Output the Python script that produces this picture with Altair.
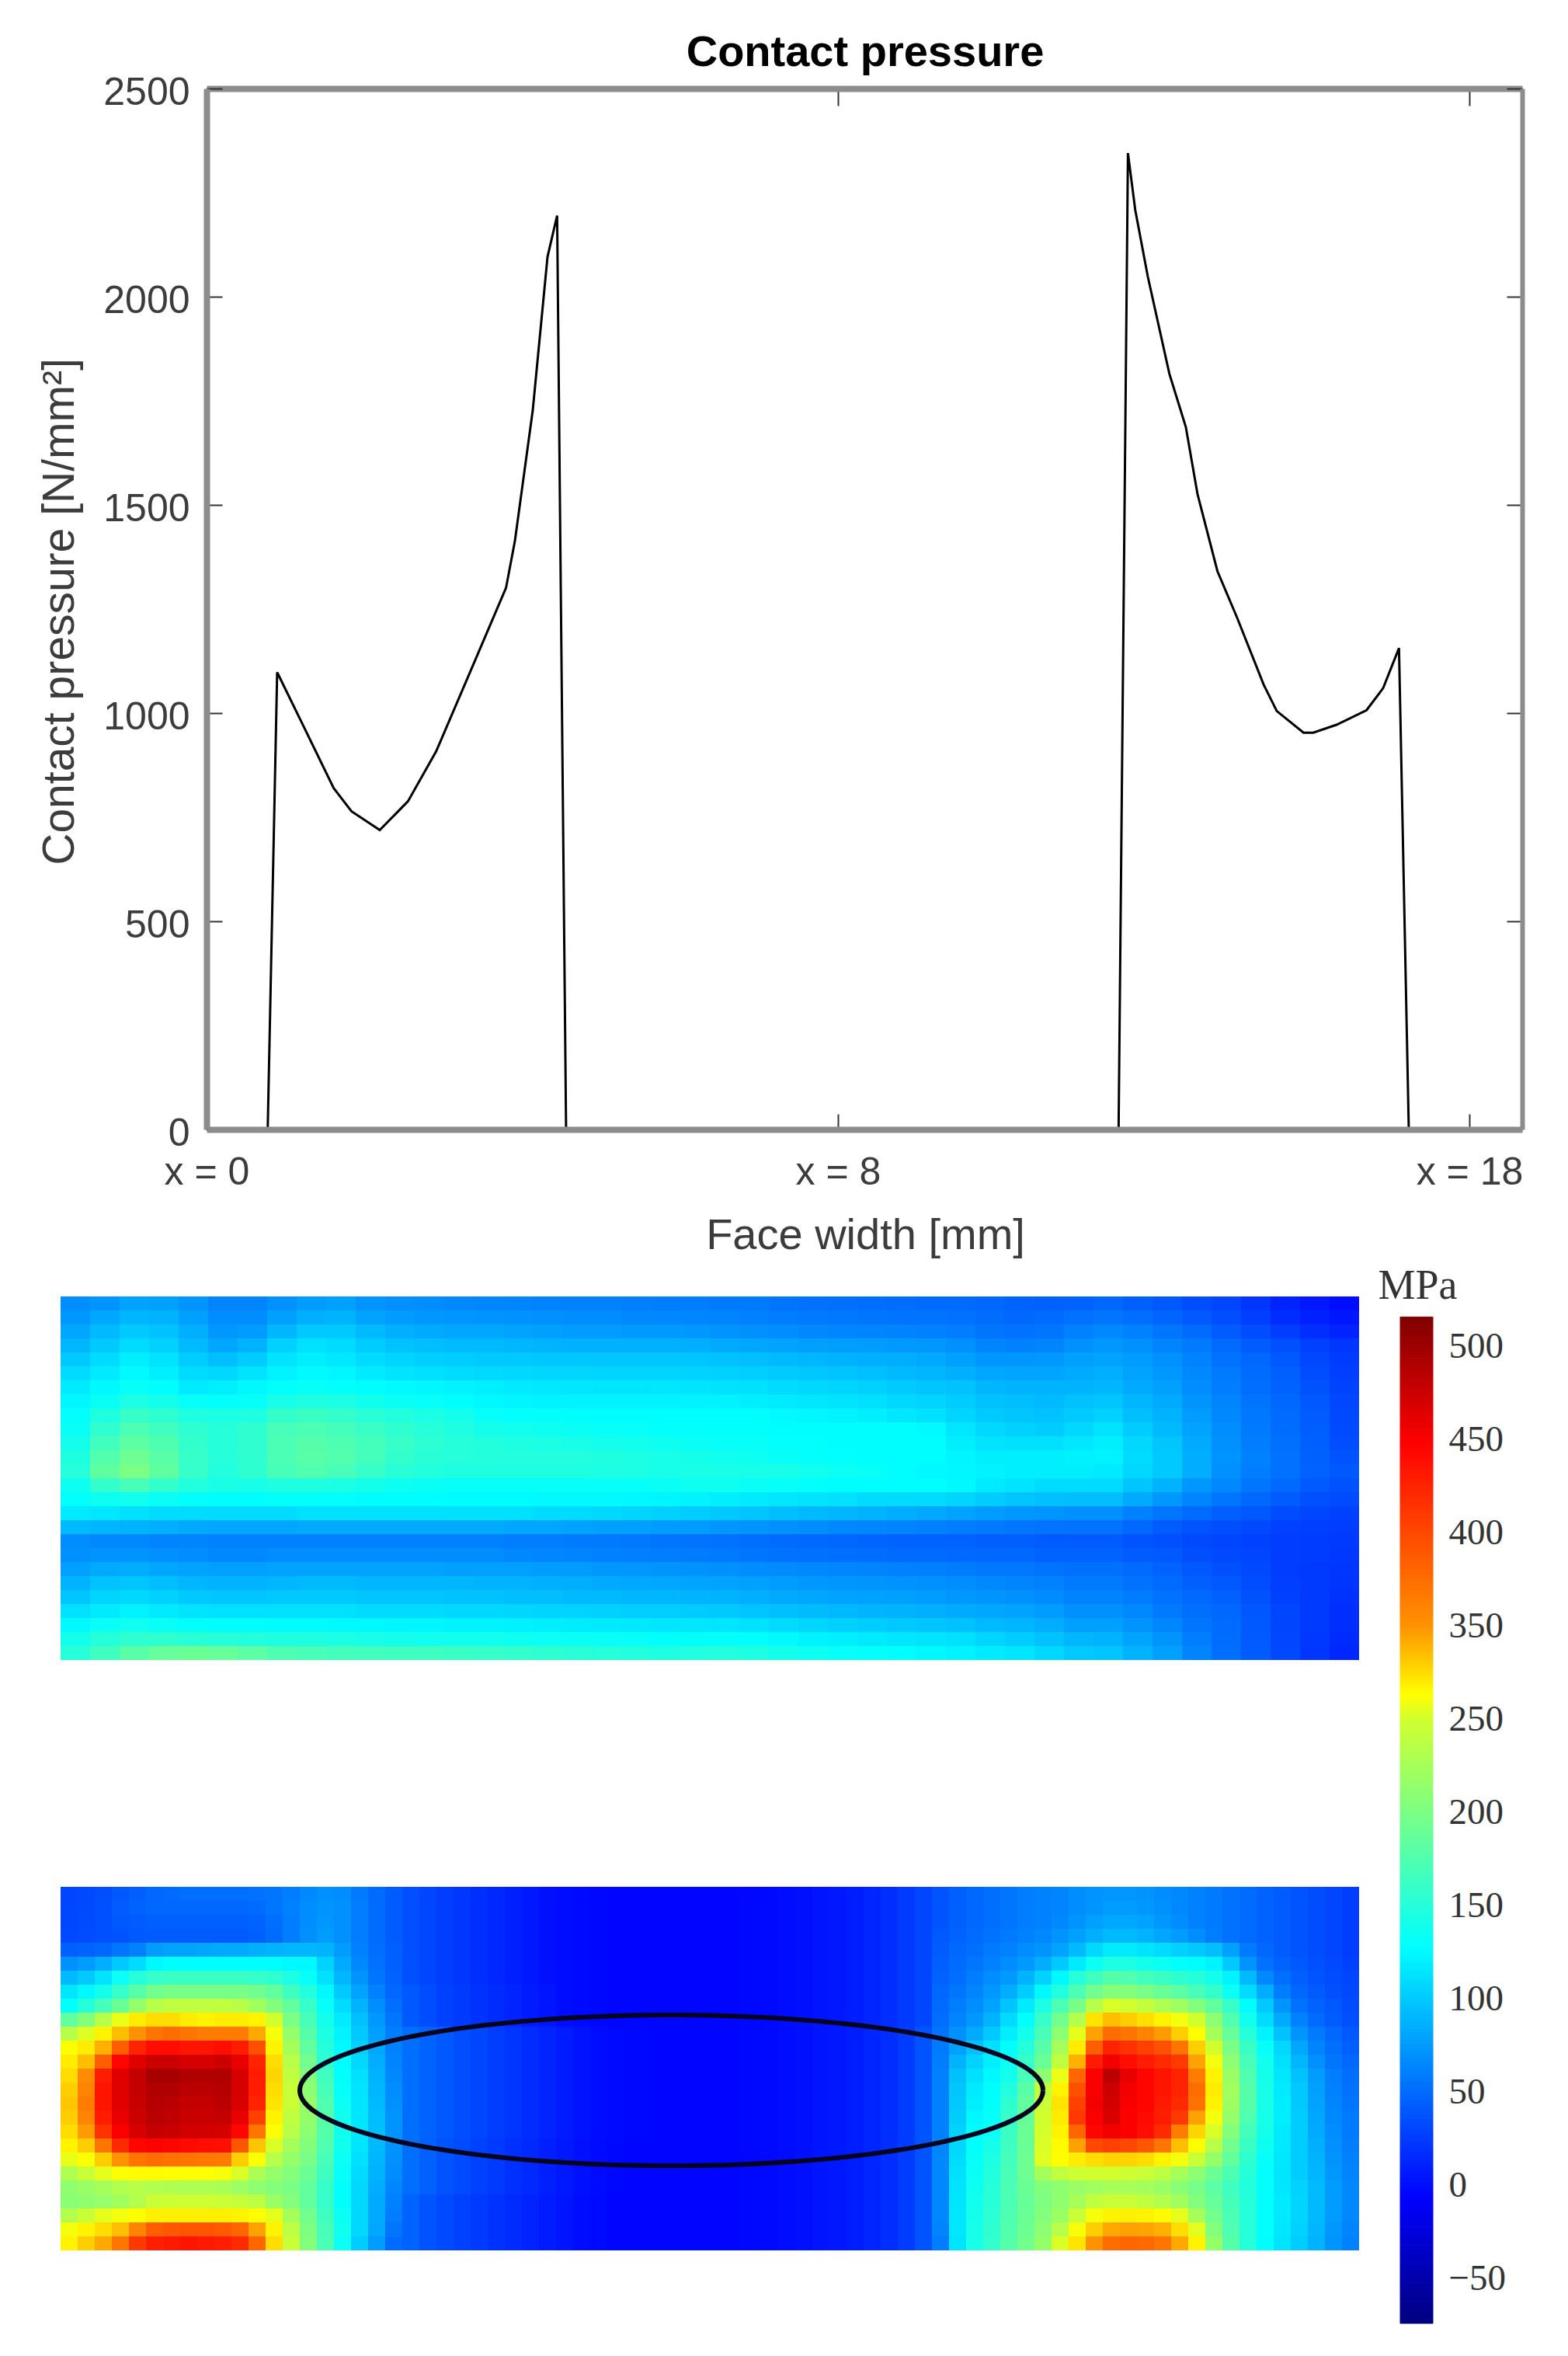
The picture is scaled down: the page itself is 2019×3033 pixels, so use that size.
import altair as alt
import numpy as np
import pandas as pd

W, H = 2003, 3017
SANS = "Liberation Sans"
SERIF = "Liberation Serif"
FRAME = "#8c8c8c"

# ---- contact pressure line (tick positions 0, 1, 2 carry the labels x = 0, 8, 18)
line_x = [0, .0968, .1118, .1495, .2012, .2295, .2743, .3189, .3636, .4178, .4743, .4883, .5166, .54, .5552, .5694,
          1.4445, 1.4593, 1.4709, 1.4908, 1.5249, 1.5510, 1.5695, 1.6010, 1.6322, 1.6744, 1.6950, 1.7374, 1.7528,
          1.7897, 1.8372, 1.8635, 1.8886, 1.9041, 2.0837]
line_y = [0, 0, 1098, 981, 820, 764, 719, 788, 908, 1100, 1301, 1413, 1727, 2096, 2195, 0,
          0, 2345, 2208, 2048, 1815, 1687, 1526, 1341, 1229, 1068, 1005, 953, 953,
          972, 1007, 1060, 1156, 0, 0]
x_ticks = [0, 1, 2]
y_ticks = [0, 500, 1000, 1500, 2000, 2500]
bar_labels = [-50, 0, 50, 100, 150, 200, 250, 350, 400, 450, 500]

# ---- stress maps, MPa
top_map = [
 [68,72,80,78,72,64,64,70,76,78,72,70,68,66,65,64,63,62,62,61,60,60,58,58,56,54,53,52,51,50,50,48,46,45,46,48,44,40,34,30,22,12,6,0],
 [74,82,90,88,78,68,68,78,86,88,80,76,74,73,72,71,70,68,68,66,66,65,64,62,60,58,57,56,55,55,54,51,48,50,54,56,52,47,41,35,27,17,11,5],
 [82,92,100,96,86,74,76,90,100,100,92,86,84,82,82,80,78,76,76,75,75,74,72,70,68,66,65,64,63,62,60,56,54,56,62,66,62,56,50,42,34,26,18,12],
 [90,100,110,104,92,82,88,104,112,110,102,96,94,92,92,90,88,87,87,87,87,86,84,82,80,78,77,76,75,74,70,64,62,64,70,74,70,64,58,50,42,36,28,22],
 [100,110,120,114,102,94,102,114,120,116,110,106,103,102,100,100,99,99,98,98,98,97,96,94,92,90,88,86,85,83,78,73,73,74,78,80,76,70,63,54,48,40,31,25],
 [110,118,126,120,110,108,114,122,126,124,118,114,112,110,109,108,107,107,106,106,106,105,104,103,101,99,97,95,92,90,86,82,81,81,84,86,80,74,66,58,50,44,34,27],
 [118,125,132,128,118,120,125,130,132,130,128,126,124,122,120,118,117,116,115,115,116,114,113,112,110,108,106,104,101,98,96,90,88,88,88,90,84,78,68,60,52,46,37,29],
 [124,134,144,140,132,130,132,142,146,144,138,134,132,128,125,123,122,122,122,122,122,122,122,120,118,116,114,112,108,106,102,96,94,92,96,98,90,84,72,64,55,48,40,31],
 [130,146,160,155,146,144,146,158,162,158,152,148,144,140,132,130,130,128,128,128,128,128,128,128,126,124,122,120,116,112,106,100,98,96,100,104,94,88,76,66,57,50,42,32],
 [134,156,172,165,155,150,156,170,172,168,162,156,150,146,140,138,136,134,132,132,130,130,130,130,128,128,128,128,128,126,116,108,104,102,108,114,102,92,80,68,58,51,43,33],
 [140,166,182,174,158,150,156,172,178,174,168,160,154,150,148,146,144,142,140,138,136,134,132,132,130,129,128,128,128,128,120,114,112,112,116,120,108,98,84,70,60,53,44,35],
 [146,176,192,180,160,150,156,172,180,176,168,158,152,150,149,148,148,148,146,144,142,140,138,136,132,130,129,128,128,128,123,120,120,120,121,122,110,100,85,72,62,54,45,38],
 [150,184,200,184,160,148,155,170,175,170,160,152,148,146,146,146,146,146,145,144,142,142,142,142,142,138,135,132,128,125,124,122,120,120,120,118,108,100,85,70,60,54,46,40],
 [136,158,170,158,148,143,142,146,146,144,140,136,134,132,132,132,132,132,132,132,134,136,136,134,132,130,128,128,128,128,125,118,114,110,110,110,98,88,74,66,56,49,41,37],
 [130,136,138,134,130,128,128,130,130,130,128,128,128,127,127,127,126,126,126,125,124,122,120,118,116,114,112,110,110,110,106,102,98,95,94,94,84,74,64,56,48,42,36,33],
 [118,116,112,110,110,110,110,110,112,112,112,112,112,112,112,112,110,110,108,106,104,102,100,98,94,92,90,88,85,83,80,76,74,72,70,70,62,56,50,44,40,34,30,28],
 [92,90,88,86,84,82,82,82,84,84,84,84,84,84,84,82,82,80,78,78,76,76,74,72,70,68,66,65,64,62,60,58,56,55,54,54,48,42,38,35,32,28,27,26],
 [68,66,66,64,64,62,62,62,62,62,62,62,62,62,62,60,60,58,58,57,56,55,54,52,50,49,48,47,46,46,46,44,44,42,42,42,38,36,32,30,28,26,25,24],
 [70,72,72,70,68,66,66,68,68,68,68,68,68,68,68,66,65,64,62,61,60,59,58,56,54,53,52,51,50,50,49,48,48,46,46,46,42,40,35,32,30,26,25,23],
 [78,84,85,82,80,78,78,80,80,80,80,80,80,78,78,78,76,76,74,73,72,71,70,68,67,66,65,64,62,61,59,57,57,55,53,53,50,46,40,36,32,26,24,22],
 [88,96,98,94,90,88,88,90,92,92,90,90,90,90,88,88,86,85,84,83,82,81,80,78,76,74,73,72,71,70,68,66,64,62,58,58,54,50,44,40,34,27,24,21],
 [98,106,108,104,100,98,98,100,100,100,98,98,98,96,96,94,94,92,92,90,90,89,88,86,84,82,80,79,78,76,74,72,70,67,63,63,59,54,49,45,37,28,24,20],
 [112,118,122,118,114,112,112,112,112,112,110,110,110,108,108,107,106,105,104,103,103,101,100,97,95,93,91,89,88,86,84,82,80,76,70,70,66,58,52,48,39,30,24,18],
 [126,134,137,134,130,128,128,127,127,126,125,124,124,122,122,121,120,119,118,117,116,116,115,113,110,107,104,102,100,98,96,92,90,85,78,78,72,65,56,50,40,30,24,18],
 [140,150,155,155,152,150,148,146,146,144,142,140,138,138,138,136,135,134,133,132,130,131,131,129,126,122,120,118,116,114,112,106,102,96,90,88,80,72,60,51,41,31,23,16],
 [150,165,180,188,190,188,182,174,170,168,166,165,165,162,160,158,155,152,150,148,146,147,148,145,140,136,132,130,128,125,122,118,115,108,100,98,88,78,64,52,42,32,22,14],
]

# lower map, read in four blocks from left to right
lower_left = [
 [30,32,35,40,44,48,50,52,52,52,52,54,56,60,66,70,68,58,50,42],
 [30,32,36,42,46,48,48,48,48,48,48,50,56,62,68,72,70,60,50,42],
 [30,33,36,40,42,44,44,44,44,44,44,46,52,60,68,74,70,60,50,42],
 [32,34,36,38,40,42,42,42,42,42,42,44,50,60,70,76,70,60,50,42],
 [44,46,48,56,62,76,80,80,82,84,84,86,88,90,90,88,76,62,52,44],
 [70,76,86,100,110,125,128,128,128,128,128,128,128,125,125,105,84,66,54,44],
 [92,100,114,135,150,160,162,162,162,162,162,160,155,145,132,112,90,72,56,46],
 [115,125,140,160,180,195,198,198,198,198,198,195,185,165,148,125,100,80,62,48],
 [130,150,170,190,215,235,240,240,240,240,235,222,205,185,160,132,110,88,68,52],
 [185,205,235,265,290,300,300,290,285,290,290,285,250,200,170,140,118,95,74,56],
 [235,258,285,320,350,370,375,370,365,365,365,335,272,215,178,145,122,100,78,60],
 [275,290,330,385,425,440,440,435,435,440,430,395,285,225,185,150,126,104,82,62],
 [290,320,385,445,465,475,475,470,470,475,460,425,300,235,195,155,128,108,85,64],
 [300,355,430,465,480,495,495,490,490,490,470,430,305,240,205,165,130,112,88,66],
 [310,360,435,465,480,490,490,485,485,488,470,430,300,245,210,170,132,114,90,68],
 [315,365,435,465,478,488,485,480,480,485,468,425,295,245,215,175,135,115,92,70],
 [310,360,430,460,475,485,482,478,478,480,460,405,285,240,215,178,138,115,94,72],
 [300,345,415,450,470,480,478,472,472,470,445,370,275,235,210,178,138,115,94,72],
 [285,310,370,420,445,448,445,442,440,438,390,315,255,225,205,175,138,115,92,72],
 [265,275,310,350,370,375,372,370,368,365,310,275,235,215,198,170,135,112,90,70],
 [230,245,262,275,280,280,278,276,276,272,255,228,215,205,190,165,132,110,88,68],
 [212,218,225,232,235,232,230,230,230,228,220,212,206,200,185,160,130,108,85,65],
 [208,212,216,222,232,245,248,248,248,246,244,238,218,205,185,160,130,108,84,62],
 [232,245,262,270,278,288,288,288,288,288,285,278,262,225,195,165,135,108,84,60],
 [270,285,300,320,360,385,390,392,392,388,380,340,285,238,202,170,138,108,82,56],
 [285,310,335,370,410,428,432,435,432,428,420,380,300,245,205,172,135,102,76,50],
]
centre_upper = [36,30,26,22,18,14,10,6,2,0,-2,-3,-4,-4,-4,-4,-4,-4]
centre_high = [40,34,28,24,20,16,12,8,4,0,-2,-3,-4,-4,-4,-4,-4,-4]
centre_mid = [52,46,40,35,30,26,21,17,12,8,3,0,-2,-3,-4,-4,-4,-4]
centre_low = [52,45,38,33,28,24,19,15,10,6,2,-1,-3,-4,-4,-4,-4,-4]
centre_foot = [46,38,32,28,24,20,16,12,8,4,0,-2,-4,-4,-4,-4,-4,-4]
lower_centre = [centre_upper] * 7 + [centre_high] * 3 + [centre_mid] * 8 + [centre_low] * 4 + [centre_foot] * 4
rise_upper = [-4,-4,-3,-2,0,2,4,6,9,13,18,24,30]
rise_lower = [-4,-4,-3,-2,0,2,4,6,9,13,18,25,38]
lower_rise = [rise_upper] * 10 + [rise_lower] * 16
lower_right = [
 [38,44,48,52,56,60,62,64,68,72,74,74,72,68,66,62,58,54,50,46,42,38,34,30,26],
 [38,44,48,52,56,60,62,64,68,72,76,76,74,70,66,62,58,54,50,46,42,38,34,30,26],
 [38,44,48,52,56,60,62,66,72,78,82,82,80,74,68,62,58,54,50,46,42,38,34,30,26],
 [40,46,50,54,58,62,66,72,78,86,92,92,88,82,76,68,60,54,50,46,42,38,34,30,26],
 [42,48,52,58,62,68,72,80,92,108,118,118,114,110,104,100,94,78,58,48,42,38,34,30,26],
 [44,50,56,62,68,75,85,100,118,135,145,145,140,135,130,128,122,100,72,54,46,40,36,32,28],
 [46,52,60,68,75,88,105,125,150,165,178,175,168,162,155,150,140,122,92,66,52,44,38,34,30],
 [48,56,64,74,85,102,125,148,172,195,205,205,198,190,182,170,158,135,110,85,60,48,42,36,32],
 [50,60,68,80,98,118,145,172,198,235,255,250,242,230,220,205,185,160,128,100,72,54,46,40,34],
 [52,64,74,88,110,130,160,195,232,295,320,310,298,285,270,250,210,175,138,110,84,62,50,42,36],
 [55,70,84,100,120,140,170,210,262,340,375,370,360,345,310,278,225,188,150,122,96,72,58,48,40],
 [58,78,95,112,130,150,180,225,290,385,425,415,405,395,370,310,250,200,162,132,108,82,64,52,44],
 [60,88,105,120,135,160,190,240,330,430,455,440,430,420,410,340,270,210,170,138,112,90,70,56,48],
 [62,95,112,125,140,170,210,265,380,450,485,460,445,435,425,365,285,218,175,140,116,96,76,60,52],
 [62,98,118,128,148,180,240,285,395,452,475,455,445,435,425,375,290,222,178,142,118,100,78,62,54],
 [62,100,120,130,155,185,245,295,405,455,472,452,445,432,420,372,285,220,178,142,120,100,80,64,56],
 [62,102,125,132,160,188,250,290,410,450,468,450,442,430,410,340,270,215,175,142,120,102,82,66,58],
 [62,105,128,135,162,190,252,285,380,445,455,450,440,420,365,305,255,205,168,140,118,102,84,68,58],
 [64,108,130,140,165,190,255,280,340,400,405,400,390,370,320,275,235,195,162,136,118,102,86,70,60],
 [66,110,132,145,168,192,258,278,290,300,305,305,300,285,270,245,215,185,155,132,116,102,88,72,62],
 [66,112,134,148,170,192,225,240,248,250,250,248,245,238,225,210,192,172,150,130,115,102,90,74,64],
 [66,114,136,150,172,190,205,212,218,222,226,226,224,218,208,198,182,165,148,130,116,105,92,76,66],
 [66,115,138,152,172,188,202,212,225,240,245,245,240,232,222,205,188,168,150,130,118,106,92,76,66],
 [66,116,140,154,174,190,205,218,245,272,285,288,285,280,262,225,195,172,150,130,118,106,92,76,66],
 [64,116,142,156,176,192,210,235,272,310,335,340,338,330,300,260,205,175,150,130,116,104,90,74,64],
 [60,114,142,158,178,195,215,255,295,350,375,380,378,370,335,285,215,178,150,128,114,102,88,72,62],
]
bottom_map = [a + b + c + d for a, b, c, d in zip(lower_left, lower_centre, lower_rise, lower_right)]

jet_values = [-74, -6.5, 128.5, 277, 448.5, 516.6]
jet_colors = ["#00007f", "#0000ff", "#00ffff", "#ffff00", "#ff0000", "#7f0000"]
jet = alt.Scale(domain=jet_values, range=jet_colors, interpolate="rgb", clamp=True)


def cells(rows):
    return pd.DataFrame([
        {"c0": i, "c1": i + 1, "r0": j, "r1": j + 1, "v": v}
        for j, row in enumerate(rows) for i, v in enumerate(row)
    ])


line_df = pd.DataFrame({"x": line_x, "y": line_y})
x_scale = alt.Scale(domain=[0, 2.0837], range=[258, 1952], nice=False, zero=False)
y_scale = alt.Scale(domain=[0, 2500], range=[1446, 106], nice=False, zero=False)

# the line, with the labelled left and bottom axes
main = alt.Chart(line_df).mark_line(color="#000000", strokeWidth=3).encode(
    x=alt.X("x:Q", scale=x_scale, axis=alt.Axis(
        orient="bottom", offset=1446 - H, values=x_ticks, grid=False, ticks=False,
        labelExpr="datum.value == 0 ? 'x = 0' : datum.value == 1 ? 'x = 8' : 'x = 18'",
        labelFont=SANS, labelFontSize=50, labelColor="#3c3c3c", labelPadding=30, labelFlush=False,
        labelOverlap=False, domainColor=FRAME, domainWidth=8, zindex=1,
        title="Face width [mm]", titleFont=SANS, titleFontSize=56, titleFontWeight="normal",
        titleColor="#3c3c3c", titleX=1106, titleY=136, titleAlign="center", titleBaseline="middle")),
    y=alt.Y("y:Q", scale=y_scale, axis=alt.Axis(
        orient="left", offset=-258, values=y_ticks, grid=False, ticks=False, format="d",
        labelFont=SANS, labelFontSize=50, labelColor="#3c3c3c", labelPadding=22, labelOffset=5,
        domainColor=FRAME, domainWidth=8, zindex=1,
        title="Contact pressure [N/mm²]", titleFont=SANS, titleFontSize=57, titleFontWeight="normal",
        titleColor="#3c3c3c", titleAngle=-90, titleX=-189, titleY=779, titleAlign="center", titleBaseline="middle")),
    order=alt.Order("x:Q"),
)

# inward ticks on the left and bottom edges of the frame
inner_a = alt.Chart(line_df).mark_line(opacity=0).encode(
    x=alt.X("x:Q", scale=x_scale, axis=alt.Axis(
        orient="top", offset=-1446, values=x_ticks, grid=False, labels=False, domain=False, title=None,
        tickColor="#333333", tickWidth=2, tickSize=20)),
    y=alt.Y("y:Q", scale=y_scale, axis=alt.Axis(
        orient="right", offset=258 - W, values=y_ticks, grid=False, labels=False, domain=False, title=None,
        tickColor="#333333", tickWidth=2, tickSize=20)),
)

# top and right edges of the frame, with inward ticks
inner_b = alt.Chart(line_df).mark_line(opacity=0).encode(
    x=alt.X("x:Q", scale=x_scale, axis=alt.Axis(
        orient="bottom", offset=106 - H, values=x_ticks, grid=False, labels=False, title=None,
        domainColor=FRAME, domainWidth=8, tickColor="#333333", tickWidth=2, tickSize=22)),
    y=alt.Y("y:Q", scale=y_scale, axis=alt.Axis(
        orient="left", offset=-1952, values=y_ticks, grid=False, labels=False, title=None,
        domainColor=FRAME, domainWidth=6, tickColor="#333333", tickWidth=2, tickSize=20)),
)


def stress_map(rows, top):
    return alt.Chart(cells(rows)).mark_rect(strokeWidth=0).encode(
        x=alt.X("c0:Q", axis=None, scale=alt.Scale(domain=[0, len(rows[0])], range=[70, 1742], nice=False, zero=False)),
        x2="c1:Q",
        y=alt.Y("r0:Q", axis=None, scale=alt.Scale(domain=[0, len(rows)], range=[top, top + 468], nice=False, zero=False)),
        y2="r1:Q",
        color=alt.Color("v:Q", scale=jet, legend=None),
    )


map_top = stress_map(top_map, 1661)
map_bottom = stress_map(bottom_map, 2421)

# ellipse marking the contact region of the lower map
theta = np.linspace(0, 2 * np.pi, 181)
ellipse_df = pd.DataFrame({
    "t": theta,
    "x": 35.75 + 21.75 * np.cos(theta),
    "y": 14.56 + 5.39 * np.sin(theta),
})
ellipse = alt.Chart(ellipse_df).mark_line(color="#050520", strokeWidth=6).encode(
    x=alt.X("x:Q", axis=None, scale=alt.Scale(domain=[0, 76], range=[70, 1742], nice=False, zero=False)),
    y=alt.Y("y:Q", axis=None, scale=alt.Scale(domain=[0, 26], range=[2421, 2889], nice=False, zero=False)),
    order=alt.Order("t:Q"),
)

# colour bar: the axis keeps the labels at even spacing, with 300 absent as in the source
bar_df = pd.DataFrame({"v0": np.arange(-74.0, 516.0, 2.0)})
bar_df["v1"] = bar_df["v0"] + 2.0
bar_df["v"] = bar_df["v0"] + 1.0
bar = alt.Chart(bar_df).mark_rect(strokeWidth=1).encode(
    x=alt.value(1795),
    x2=alt.value(1837),
    y=alt.Y("v0:Q", scale=alt.Scale(domain=[-74, 250, 350, 516.6], range=[2983, 2205, 2085, 1686], nice=False, zero=False),
            axis=alt.Axis(orient="right", offset=1837 - W, values=bar_labels, grid=False, ticks=False, domain=False,
                          labelFont=SERIF, labelFontSize=47, labelColor="#333333", labelPadding=20, labelOverlap=False,
                          labelFlush=False,
                          title="MPa", titleFont=SERIF, titleFontSize=54, titleFontWeight="normal", titleColor="#333333",
                          titleAngle=0, titleX=-20, titleY=1647, titleAlign="center", titleBaseline="middle")),
    y2="v1:Q",
    color=alt.Color("v:Q", scale=jet, legend=None),
    stroke=alt.Stroke("v:Q", scale=jet, legend=None),
)

chart = alt.layer(main, inner_a, inner_b, map_top, map_bottom, ellipse, bar).resolve_scale(
    x="independent", y="independent"
).resolve_axis(x="independent", y="independent").properties(
    width=W, height=H, padding=0,
    autosize=alt.AutoSizeParams(type="none"),
    title=alt.TitleParams("Contact pressure", anchor="start", dx=1106, dy=89, offset=0, align="center",
                          font=SANS, fontSize=56, fontWeight="bold", color="#000000"),
).configure_view(stroke=None)

chart.save("out.html", embed_options={"renderer": "svg", "actions": False})
